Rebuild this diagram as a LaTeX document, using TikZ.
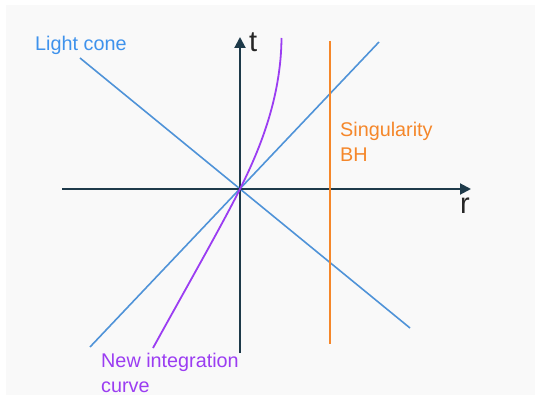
\documentclass[tikz,border=0pt]{standalone}
\usepackage{fontspec}
\setmainfont{Liberation Sans}
\usetikzlibrary{arrows.meta}
\definecolor{bgc}{HTML}{F9F9F9}
\definecolor{axisc}{HTML}{1E3A4A}
\definecolor{conec}{HTML}{4F93D8}
\definecolor{lblue}{HTML}{3E92EC}
\definecolor{orangec}{HTML}{F5872A}
\definecolor{purplec}{HTML}{9B3DF2}
\tikzset{
  axisline/.style={draw=axisc, line width=2pt, -{Triangle[length=11pt,width=11pt]}},
  coneline/.style={draw=conec, line width=1.6pt},
  sing/.style={draw=orangec, line width=2pt},
  curveline/.style={draw=purplec, line width=1.8pt},
  lbl/.style={inner sep=0pt, font=\fontsize{19.8}{25}\selectfont, align=left},
  axlbl/.style={inner sep=0pt, font=\fontsize{29}{30}\selectfont, text=black!85},
}
\begin{document}
\begin{tikzpicture}[x=1pt, y=-1pt]
\useasboundingbox (0,0) rectangle (535,395);
\fill[bgc] (6,5) rectangle (535,395);
% coordinates
\coordinate (O) at (240,189);
\coordinate (tbot) at (240,353);
\coordinate (ttop) at (240,37);
\coordinate (rleft) at (62,189);
\coordinate (rright) at (471,189);
\coordinate (c1a) at (90,347);
\coordinate (c1b) at (379,42);
\coordinate (c2a) at (80,58);
\coordinate (c2b) at (410,328);
\coordinate (sa) at (330,41);
\coordinate (sb) at (330,344);
\coordinate (pa) at (153,348);
\coordinate (pb) at (281.5,38);
% light cone
\draw[coneline] (c1a) -- (c1b);
\draw[coneline] (c2a) -- (c2b);
% axes
\draw[axisline] (rleft) -- (rright);
\draw[axisline] (tbot) -- (ttop);
% singularity
\draw[sing] (sa) -- (sb);
% integration curve
\draw[curveline] (pa) .. controls (185,290) and (222,225) .. (O)
  .. controls (258,153) and (281,100) .. (pb);
% labels
\node[axlbl, anchor=base west] (tl) at (249,52) {t};
\node[axlbl, anchor=base west] (rl) at (460,214) {r};
\node[lbl, text=lblue, anchor=base west] (lc) at (35,51) {Light cone};
\node[lbl, text=orangec, anchor=base west] (sg) at (340,162) {Singularity\\BH};
\node[lbl, text=purplec, anchor=base west] (ni) at (101,392) {New integration\\curve};
\end{tikzpicture}
\end{document}
